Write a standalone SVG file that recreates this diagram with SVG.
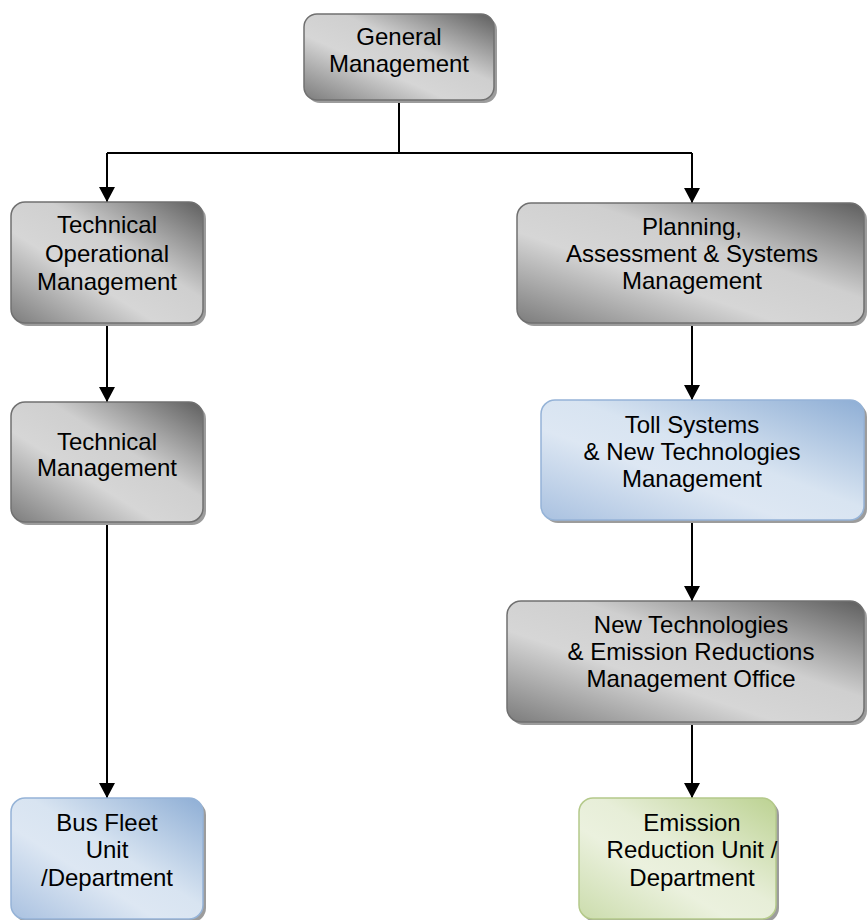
<svg xmlns="http://www.w3.org/2000/svg" width="867" height="920" viewBox="0 0 867 920">
<defs>
<linearGradient id="gGray" x1="1" y1="0" x2="0" y2="1">
<stop offset="0" stop-color="#5e5e5e"/>
<stop offset="0.4" stop-color="#cfcfcf"/>
<stop offset="0.62" stop-color="#d6d6d6"/>
<stop offset="1" stop-color="#7c7c7c"/>
</linearGradient>
<linearGradient id="gBlue" x1="1" y1="0" x2="0" y2="1">
<stop offset="0" stop-color="#8eaed5"/>
<stop offset="0.45" stop-color="#d8e4f1"/>
<stop offset="0.62" stop-color="#dde7f3"/>
<stop offset="1" stop-color="#a9c1e0"/>
</linearGradient>
<linearGradient id="gGreen" x1="1" y1="0" x2="0" y2="1">
<stop offset="0" stop-color="#bcd292"/>
<stop offset="0.45" stop-color="#e7eed8"/>
<stop offset="0.62" stop-color="#ebf1de"/>
<stop offset="1" stop-color="#cbdcac"/>
</linearGradient>
<marker id="arr" viewBox="0 0 15 16" refX="15" refY="8" markerWidth="15" markerHeight="16" markerUnits="userSpaceOnUse" orient="auto">
<path d="M0,0 L15,8 L0,16 z" fill="#000"/>
</marker>
</defs>
<style>
.sh{fill:#9c9c9c;}
.gray{fill:url(#gGray);stroke:#707070;stroke-width:1.5;}
.blue{fill:url(#gBlue);stroke:#95b3d7;stroke-width:1.5;}
.green{fill:url(#gGreen);stroke:#b4c98a;stroke-width:1.5;}
text{font-family:"Liberation Sans",Arial,sans-serif;font-size:24px;fill:#000;text-anchor:middle;}
.c{fill:none;stroke:#000;stroke-width:2;}
</style>
<g id="connectors">
<path class="c" d="M399,100 V153"/>
<path class="c" d="M107,153 H692"/>
<path class="c" d="M107,153 V202" marker-end="url(#arr)"/>
<path class="c" d="M692,153 V203" marker-end="url(#arr)"/>
<path class="c" d="M107,323 V402" marker-end="url(#arr)"/>
<path class="c" d="M107,522 V798" marker-end="url(#arr)"/>
<path class="c" d="M692,323 V400" marker-end="url(#arr)"/>
<path class="c" d="M692,520 V601" marker-end="url(#arr)"/>
<path class="c" d="M692,722 V798" marker-end="url(#arr)"/>
</g>
<g id="general">
<rect class="sh" x="307" y="17" width="190" height="86" rx="13"/>
<rect class="gray" x="304" y="14" width="190" height="86" rx="13"/>
<text x="399" y="45">General</text>
<text x="399" y="72">Management</text>
</g>
<g id="techop">
<rect class="sh" x="14" y="205" width="192" height="121" rx="14"/>
<rect class="gray" x="11" y="202" width="192" height="121" rx="14"/>
<text x="107" y="233">Technical</text>
<text x="107" y="262">Operational</text>
<text x="107" y="290">Management</text>
</g>
<g id="planning">
<rect class="sh" x="520" y="206" width="347" height="120" rx="14"/>
<rect class="gray" x="517" y="203" width="347" height="120" rx="14"/>
<text x="692" y="235">Planning,</text>
<text x="692" y="262">Assessment &amp; Systems</text>
<text x="692" y="289">Management</text>
</g>
<g id="techmgmt">
<rect class="sh" x="14" y="405" width="192" height="120" rx="14"/>
<rect class="gray" x="11" y="402" width="192" height="120" rx="14"/>
<text x="107" y="450">Technical</text>
<text x="107" y="476">Management</text>
</g>
<g id="toll">
<rect class="sh" x="544" y="403" width="323" height="120" rx="14"/>
<rect class="blue" x="541" y="400" width="323" height="120" rx="14"/>
<text x="692" y="433">Toll Systems</text>
<text x="692" y="460">&amp; New Technologies</text>
<text x="692" y="487">Management</text>
</g>
<g id="newtech">
<rect class="sh" x="510" y="604" width="357" height="121" rx="14"/>
<rect class="gray" x="507" y="601" width="357" height="121" rx="14"/>
<text x="691" y="633">New Technologies</text>
<text x="691" y="660">&amp; Emission Reductions</text>
<text x="691" y="687">Management Office</text>
</g>
<g id="busfleet">
<rect class="sh" x="14" y="801" width="192" height="121" rx="14"/>
<rect class="blue" x="11" y="798" width="192" height="121" rx="14"/>
<text x="107" y="831">Bus Fleet</text>
<text x="107" y="858">Unit</text>
<text x="107" y="886">/Department</text>
</g>
<g id="emission">
<rect class="sh" x="582" y="801" width="197" height="121" rx="14"/>
<rect class="green" x="579" y="798" width="197" height="121" rx="14"/>
<text x="692" y="831">Emission</text>
<text x="692" y="858">Reduction Unit /</text>
<text x="692" y="886">Department</text>
</g>
</svg>
